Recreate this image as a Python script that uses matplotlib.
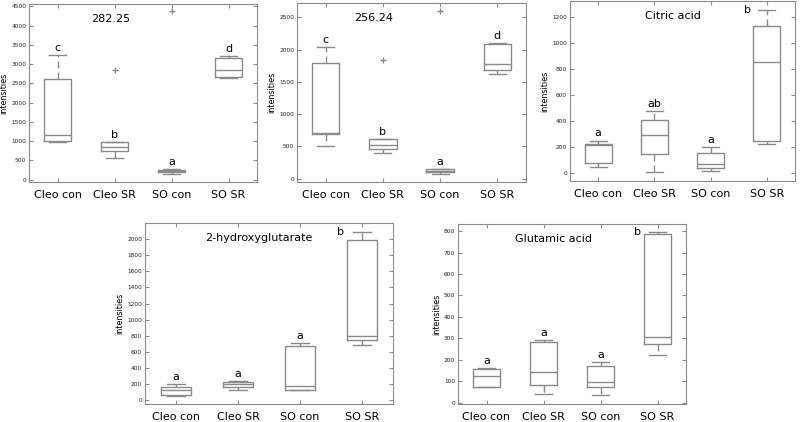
import matplotlib
matplotlib.use('Agg')
import matplotlib.pyplot as plt

W, H = 800, 422

groups = ['Cleo con', 'Cleo SR', 'SO con', 'SO SR']

# five number summaries per group: [low whisker, q1, median, q3, high whisker]
c282_stats = [[966, 1017, 1147, 2612, 3233],
              [560, 750, 853, 974, 974],
              [155, 207, 233, 259, 270],
              [2629, 2664, 2836, 3164, 3216]]
c282_fliers = [[], [2836], [4379], []]
c282_letters = ['c', 'b', 'a', 'd']

c256_stats = [[510, 686, 716, 1794, 2041],
              [397, 464, 526, 613, 613],
              [77, 98, 119, 149, 149],
              [1619, 1680, 1773, 2088, 2103]]
c256_fliers = [[], [1845], [2603], []]
c256_letters = ['c', 'b', 'a', 'd']

citric_stats = [[44, 72, 215, 223, 246],
                [3, 141, 287, 403, 474],
                [10, 33, 62, 154, 195],
                [221, 246, 854, 1128, 1254]]
citric_fliers = [[], [], [], []]
citric_letters = ['a', 'ab', 'a', 'b']

hydroxy_stats = [[55, 62, 132, 170, 199],
                 [124, 166, 199, 232, 244],
                 [124, 128, 182, 679, 708],
                 [683, 749, 803, 1992, 2087]]
hydroxy_fliers = [[], [], [], []]
hydroxy_letters = ['a', 'a', 'a', 'b']

glut_stats = [[71, 71, 124, 158, 163],
              [40, 82, 141, 283, 292],
              [36, 71, 95, 172, 188],
              [222, 272, 307, 786, 797]]
glut_fliers = [[], [], [], []]
glut_letters = ['a', 'a', 'a', 'b']

gray = '#8a8a8a'


def px_axes(fig, left, right, top, bottom):
    return fig.add_axes([left / W, 1 - bottom / H, (right - left) / W, (bottom - top) / H])


def draw_panel(ax, stats, fliers, letters, title, title_x, ylim, yticks):
    bxp_stats = []
    for s, f in zip(stats, fliers):
        bxp_stats.append(dict(whislo=s[0], q1=s[1], med=s[2], q3=s[3], whishi=s[4], fliers=f))
    pos = list(range(1, len(groups) + 1))
    ax.bxp(bxp_stats, positions=pos, widths=0.48, capwidths=0.3,
           boxprops=dict(color=gray, linewidth=1),
           whiskerprops=dict(color=gray, linewidth=1, linestyle=(0, (5, 3))),
           capprops=dict(color=gray, linewidth=1),
           medianprops=dict(color=gray, linewidth=1),
           flierprops=dict(marker='+', markeredgecolor=gray, markersize=5, linestyle='none'))
    ax.set_xlim(0.5, len(groups) + 0.5)
    ax.set_ylim(*ylim)
    ax.set_yticks(yticks)
    ax.set_xticks(pos)
    ax.set_xticklabels(groups, fontsize=8)
    ax.tick_params(axis='x', direction='in', top=True, length=3, pad=6, color=gray)
    ax.tick_params(axis='y', direction='in', right=True, length=3, pad=2,
                   labelsize=4.2, color=gray, labelcolor='#222222')
    for sp in ax.spines.values():
        sp.set_color(gray)
    ax.set_ylabel('intensities', fontsize=5.8, labelpad=2)
    ax.text(title_x, 0.915, title, transform=ax.transAxes, fontsize=8,
            ha='center', va='center')

    span = ylim[1] - ylim[0]
    for p, s, lab in zip(pos, stats, letters):
        top = s[4]
        if (ylim[1] - top) / span < 0.1:
            # no room above, put the letter to the left of the cap
            ax.text(p - 0.35, top, lab, fontsize=8, ha='center', va='center')
        else:
            ax.annotate(lab, (p, top), xytext=(0, 3), textcoords='offset points',
                        fontsize=8, ha='center', va='baseline')


fig = plt.figure(figsize=(W / 100, H / 100), dpi=100)

ax1 = px_axes(fig, 29, 257, 4, 182)
draw_panel(ax1, c282_stats, c282_fliers, c282_letters, '282.25', 0.36,
           (-60, 4560), range(0, 4501, 500))

ax2 = px_axes(fig, 297, 526, 3, 182)
draw_panel(ax2, c256_stats, c256_fliers, c256_letters, '256.24', 0.336,
           (-50, 2720), range(0, 2501, 500))

ax3 = px_axes(fig, 570, 795, 1, 181)
draw_panel(ax3, citric_stats, citric_fliers, citric_letters, 'Citric acid', 0.458,
           (-65, 1320), range(0, 1201, 200))

ax4 = px_axes(fig, 145, 393, 223, 404)
draw_panel(ax4, hydroxy_stats, hydroxy_fliers, hydroxy_letters, '2-hydroxyglutarate', 0.46,
           (-45, 2200), range(0, 2001, 200))

ax5 = px_axes(fig, 458, 686, 224, 404)
draw_panel(ax5, glut_stats, glut_fliers, glut_letters, 'Glutamic acid', 0.42,
           (-6, 833), range(0, 801, 100))

fig.savefig('out.png', dpi=100)
